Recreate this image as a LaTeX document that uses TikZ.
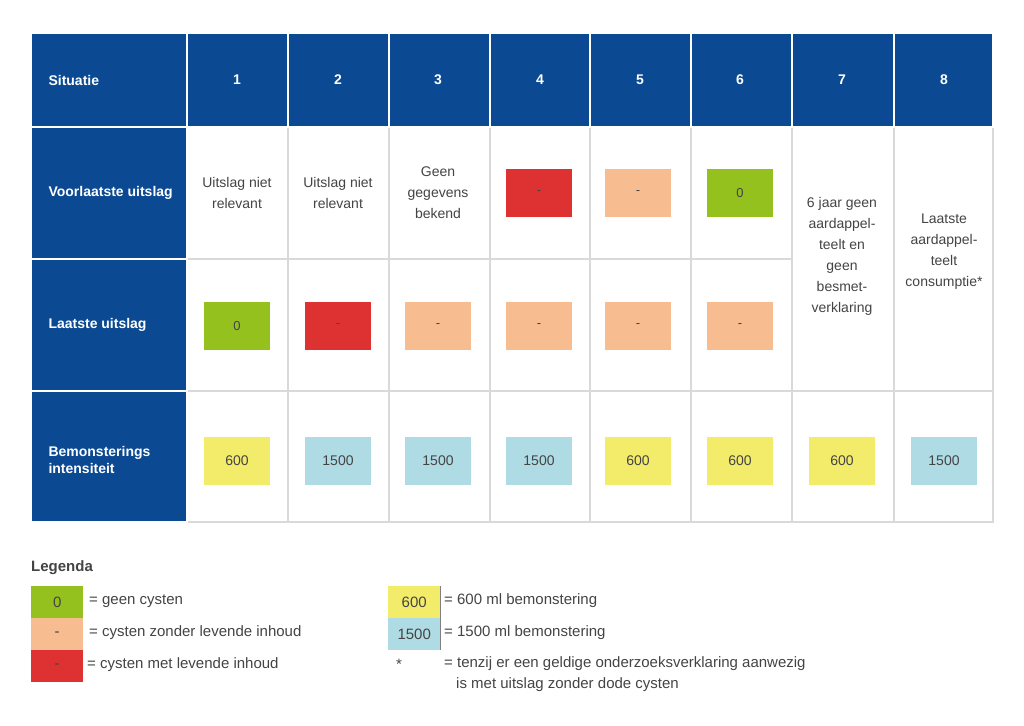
\documentclass[tikz,border=0pt]{standalone}
\usepackage{fontspec}
\setmainfont{Liberation Sans}
\definecolor{hblue}{HTML}{0B4A92}
\definecolor{cgreen}{HTML}{95C11F}
\definecolor{cpeach}{HTML}{F8BC91}
\definecolor{cred}{HTML}{DE3131}
\definecolor{cyel}{HTML}{F3EC6B}
\definecolor{clb}{HTML}{AFDBE4}
\definecolor{tgray}{HTML}{444444}
\definecolor{lgray}{HTML}{D9D9D9}
\begin{document}
\begin{tikzpicture}[x=1pt,y=-1pt,
  hcell/.style={fill=hblue,draw=white,line width=2},
  wcell/.style={fill=white,draw=lgray,line width=2},
  htxt/.style={text=white,font=\fontsize{14}{17}\selectfont\bfseries,align=left},
  ctxt/.style={text=tgray,font=\fontsize{14}{21}\selectfont,align=center},
  sbox/.style={minimum width=66,minimum height=48,inner sep=0,text=tgray,font=\fontsize{13}{15}\selectfont},
  lbox/.style={minimum width=52,minimum height=32,inner sep=0,text=tgray,font=\fontsize{15}{17}\selectfont,anchor=north west},
  ltxt/.style={text=tgray,font=\fontsize{15}{18}\selectfont,anchor=west,inner sep=0}]
\useasboundingbox (0,0) rectangle (1024,725);
\fill[white] (0,0) rectangle (1024,725);
% column boundaries
\def\xs{{31,187,288,389,490,590,691,792,894,993}}
\def\ys{{33,127,259,391,522}}
% white cells
\foreach \c in {1,...,6}{
 \foreach \r in {1,2,3}{
  \pgfmathsetmacro\xa{\xs[\c]}\pgfmathsetmacro\xb{\xs[\c+1]}
  \pgfmathsetmacro\ya{\ys[\r]}\pgfmathsetmacro\yb{\ys[\r+1]}
  \draw[wcell] (\xa,\ya) rectangle (\xb,\yb);}}
\foreach \c in {7,8}{
  \pgfmathsetmacro\xa{\xs[\c]}\pgfmathsetmacro\xb{\xs[\c+1]}
  \draw[wcell] (\xa,127) rectangle (\xb,391);
  \draw[wcell] (\xa,391) rectangle (\xb,522);}
% header row & first column
\foreach \c in {0,...,8}{
  \pgfmathsetmacro\xa{\xs[\c]}\pgfmathsetmacro\xb{\xs[\c+1]}
  \draw[hcell] (\xa,33) rectangle (\xb,127);}
\foreach \r in {1,2,3}{
  \pgfmathsetmacro\ya{\ys[\r]}\pgfmathsetmacro\yb{\ys[\r+1]}
  \draw[hcell] (31,\ya) rectangle (187,\yb);}
% header texts
\node[htxt,anchor=west] (hs) at (45,80) {Situatie};
\foreach \n/\x in {1/237,2/338,3/438,4/540,5/640,6/740,7/842,8/944}
  \node[htxt] (h\n) at (\x,80) {\n};
\node[htxt,anchor=west] (rv) at (45,193) {Voorlaatste uitslag};
\node[htxt,anchor=west] (rl) at (45,325) {Laatste uitslag};
\node[htxt,anchor=west] (rb) at (45,460) {Bemonsterings\\intensiteit};
% voorlaatste
\node[ctxt] (v1) at (237,193) {Uitslag niet\\relevant};
\node[ctxt] (v2) at (338,193) {Uitslag niet\\relevant};
\node[ctxt] (v3) at (438,193) {Geen\\gegevens\\bekend};
\node[sbox,fill=cred] (v4) at (539,193) {-};
\node[sbox,fill=cpeach] (v5) at (638,193) {-};
\node[sbox,fill=cgreen] (v6) at (740,193) {0};
\node[ctxt] (v7) at (842,256) {6 jaar geen\\aardappel-\\teelt en\\geen\\besmet-\\verklaring};
\node[ctxt] (v8) at (944,252) {Laatste\\aardappel-\\teelt\\consumptie*};
% laatste
\node[sbox,fill=cgreen] (l1) at (237,326) {0};
\node[sbox,fill=cred] (l2) at (338,326) {-};
\node[sbox,fill=cpeach] (l3) at (438,326) {-};
\node[sbox,fill=cpeach] (l4) at (539,326) {-};
\node[sbox,fill=cpeach] (l5) at (638,326) {-};
\node[sbox,fill=cpeach] (l6) at (740,326) {-};
% bemonstering
\foreach \n/\x/\c/\t in {1/237/cyel/600,2/338/clb/1500,3/438/clb/1500,4/539/clb/1500,5/638/cyel/600,6/740/cyel/600,7/842/cyel/600,8/944/clb/1500}
  \node[sbox,fill=\c,font=\fontsize{14}{16}\selectfont] (b\n) at (\x,461) {\t};
% legend
\node[anchor=west,inner sep=0,text=tgray,font=\fontsize{15}{18}\selectfont\bfseries] (leg) at (31,568) {Legenda};
\node[lbox,fill=cgreen] (g0) at (31,586) {0};
\node[lbox,fill=cpeach] (g1) at (31,618) {-};
\node[lbox,fill=cred] (g2) at (31,650) {-};
\node[ltxt] (t0) at (89,601) {= geen cysten};
\node[ltxt] (t1) at (89,633) {= cysten zonder levende inhoud};
\node[ltxt] (t2) at (87,665) {= cysten met levende inhoud};
\node[lbox,fill=cyel] (g3) at (388,586) {600};
\node[lbox,fill=clb] (g4) at (388,618) {1500};
\draw[gray,line width=1] (440,586) -- (440,650);
\node[ltxt] (t3) at (444,601) {= 600 ml bemonstering};
\node[ltxt] (t4) at (444,633) {= 1500 ml bemonstering};
\node[ltxt] (ts) at (396,664) {*};
\node[ltxt] (t5) at (444,664) {= tenzij er een geldige onderzoeksverklaring aanwezig};
\node[ltxt] (t6) at (456,685) {is met uitslag zonder dode cysten};
\end{tikzpicture}
\end{document}
